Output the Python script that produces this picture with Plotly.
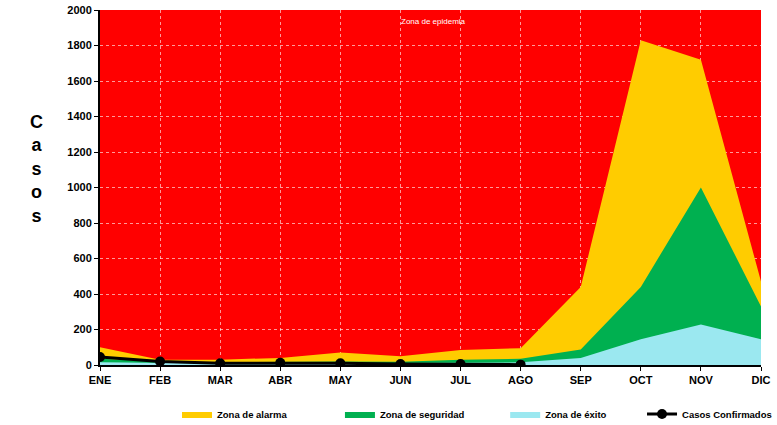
import plotly.graph_objects as go

months = ["ENE", "FEB", "MAR", "ABR", "MAY", "JUN", "JUL", "AGO", "SEP", "OCT", "NOV", "DIC"]
# upper boundary of each zone (cases)
zona_alarma = [100, 30, 30, 40, 70, 50, 85, 95, 440, 1830, 1720, 470]
zona_seguridad = [35, 20, 15, 18, 20, 18, 30, 35, 88, 440, 1000, 330]
zona_exito = [15, 10, 8, 8, 8, 8, 12, 15, 40, 145, 228, 145]
casos_confirmados = [45, 20, 10, 12, 10, 5, 5, 2]

x = list(range(len(months)))
font = "Liberation Sans, Arial, sans-serif"

fig = go.Figure()
fig.add_trace(go.Scatter(x=x, y=zona_alarma, name="Zona de alarma", mode="lines",
                         line=dict(width=0, color="#FFCC00"), fill="tozeroy",
                         fillcolor="#FFCC00", legend="legend", showlegend=True))
fig.add_trace(go.Scatter(x=x, y=zona_seguridad, name="Zona de seguridad", mode="lines",
                         line=dict(width=0, color="#00B050"), fill="tozeroy",
                         fillcolor="#00B050", legend="legend2", showlegend=True))
fig.add_trace(go.Scatter(x=x, y=zona_exito, name="Zona de éxito", mode="lines",
                         line=dict(width=0, color="#9BE8F0"), fill="tozeroy",
                         fillcolor="#9BE8F0", legend="legend3", showlegend=True))
fig.add_trace(go.Scatter(x=x[:len(casos_confirmados)], y=casos_confirmados,
                         name="Casos Confirmados", mode="lines+markers",
                         line=dict(width=3, color="black"),
                         marker=dict(size=10, color="black"), legend="legend4",
                         showlegend=True))

fig.add_annotation(x=5.55, y=1935, text="Zona de epidemia", showarrow=False,
                   font=dict(color="white", size=8, family=font))
fig.add_annotation(x=-0.109, y=0.552, xref="paper", yref="paper",
                   text="C<br>a<br>s<br>o<br>s", showarrow=False,
                   font=dict(size=18, color="black", family=font, weight="bold"))

# one legend per entry so each sits where the reference places it
legend_style = dict(orientation="h", xanchor="left", y=0.026, yref="container",
                    yanchor="middle", font=dict(size=9.5, weight="bold"), itemwidth=30,
                    visible=True)

fig.update_layout(
    width=777, height=425,
    margin=dict(l=100, r=16, t=10, b=60, autoexpand=False),
    plot_bgcolor="#FF0000",
    paper_bgcolor="white",
    font=dict(family=font, color="black", size=11),
    showlegend=True,
    legend=dict(x=0.1165, **legend_style),
    legend2=dict(x=0.363, **legend_style),
    legend3=dict(x=0.613, **legend_style),
    legend4=dict(x=0.82, **legend_style),
)
fig.update_xaxes(range=[0, 11], tickvals=x, ticktext=months,
                 showgrid=True, gridcolor="rgba(255,255,255,0.6)", griddash="dot", gridwidth=1,
                 showline=True, linecolor="black", linewidth=2,
                 ticks="outside", ticklen=4, tickcolor="black",
                 tickfont=dict(size=11, weight="bold"), zeroline=False)
fig.update_yaxes(range=[0, 2000], dtick=200,
                 showgrid=True, gridcolor="rgba(255,255,255,0.6)", griddash="dot", gridwidth=1,
                 showline=True, linecolor="black", linewidth=2,
                 ticks="outside", ticklen=4, tickcolor="black",
                 tickfont=dict(size=11, weight="bold"), zeroline=False)

# drop the default 8px page margin so the figure fills the window exactly
fig.write_html("out.html", config={"displayModeBar": False},
               post_script="document.body.style.margin='0';")
